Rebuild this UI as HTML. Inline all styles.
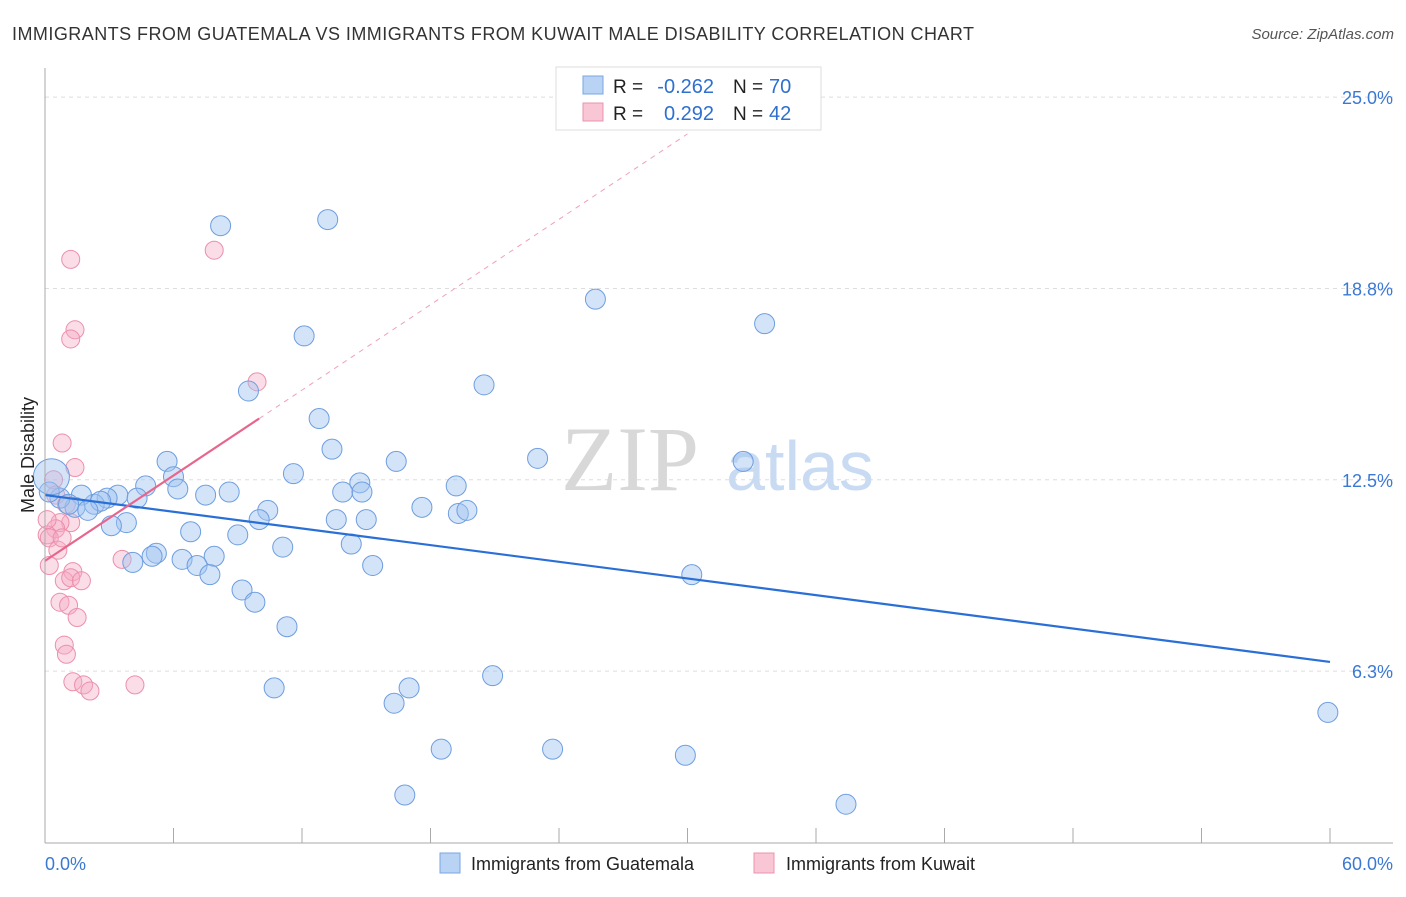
<!DOCTYPE html>
<html><head><meta charset="utf-8"><style>
body{margin:0;background:#fff;font-family:"Liberation Sans",sans-serif;}
</style></head><body>
<svg width="1406" height="892" xmlns="http://www.w3.org/2000/svg" font-family="Liberation Sans, sans-serif">
<text x="12" y="40" font-size="18" fill="#333" textLength="962">IMMIGRANTS FROM GUATEMALA VS IMMIGRANTS FROM KUWAIT MALE DISABILITY CORRELATION CHART</text>
<text x="1394" y="39" font-size="15" fill="#555" font-style="italic" text-anchor="end">Source: ZipAtlas.com</text>
<g id="grid"></g>
<text x="630" y="490" font-size="92" fill="#d8d8d8" font-family="Liberation Serif, serif" text-anchor="middle">ZIP</text>
<text x="800" y="490" font-size="70" fill="#c8dbf2" text-anchor="middle">atlas</text>
<g id="pts"></g>
<g id="lines"></g>
<line x1="45" y1="68" x2="45" y2="843" stroke="#aaa"/>
<line x1="45" y1="843" x2="1393" y2="843" stroke="#aaa"/>
<g id="ticks"></g>
<text x="45" y="870" font-size="18" fill="#3a78d4">0.0%</text>
<text x="1393" y="870" font-size="18" fill="#3a78d4" text-anchor="end">60.0%</text>
<text transform="translate(34,455) rotate(-90)" font-size="18" fill="#222" text-anchor="middle">Male Disability</text>
<g>
<rect x="556" y="67" width="265" height="63" fill="#fff" stroke="#ddd"/>
<rect x="583" y="76" width="20" height="18" fill="#b9d3f5" stroke="#7aa6e4"/>
<rect x="583" y="103" width="20" height="18" fill="#f9c6d5" stroke="#ec93ad"/>
<text x="613" y="93" font-size="19" fill="#222">R =</text>
<text x="714" y="93" font-size="20" fill="#2e6fd0" text-anchor="end">-0.262</text>
<text x="733" y="93" font-size="19" fill="#222">N =</text>
<text x="769" y="93" font-size="20" fill="#2e6fd0">70</text>
<text x="613" y="120" font-size="19" fill="#222">R =</text>
<text x="714" y="120" font-size="20" fill="#2e6fd0" text-anchor="end">0.292</text>
<text x="733" y="120" font-size="19" fill="#222">N =</text>
<text x="769" y="120" font-size="20" fill="#2e6fd0">42</text>
</g>
<g>
<rect x="440" y="853" width="20" height="20" fill="#b9d3f5" stroke="#7aa6e4"/>
<text x="471" y="870" font-size="18" fill="#222">Immigrants from Guatemala</text>
<rect x="754" y="853" width="20" height="20" fill="#f9c6d5" stroke="#ec93ad"/>
<text x="786" y="870" font-size="18" fill="#222">Immigrants from Kuwait</text>
</g>
</svg>
<script>
const yTicks=[25,18.75,12.5,6.25];
const yTickLabels=["25.0%","18.8%","12.5%","6.3%"];
const blueX=[8.2,13.2,25.7,33.6,12.1,9.5,20.5,12.8,13.4,16.4,23.0,32.6,5.7,11.6,6.0,4.7,6.2,14.7,13.9,14.8,8.6,7.5,19.2,17.6,19.3,19.7,10.4,10.0,13.6,15.0,3.4,4.3,2.9,2.3,2.6,1.7,1.4,2.0,0.7,0.2,3.8,3.1,6.8,9.0,14.3,11.1,5.2,5.0,7.9,6.4,4.1,7.1,7.7,15.3,30.2,9.2,9.8,11.3,10.7,17.0,20.9,16.3,18.5,23.7,29.9,16.8,37.4,59.9,0.3,1.1];
const blueY=[20.8,21.0,18.4,17.6,17.2,15.4,15.6,14.5,13.5,13.1,13.2,13.1,13.1,12.7,12.6,12.3,12.2,12.4,12.1,12.1,12.1,12.0,12.3,11.6,11.4,11.5,11.5,11.2,11.2,11.2,12.0,11.9,11.9,11.7,11.8,12.0,11.6,11.5,11.9,12.1,11.1,11.0,10.8,10.7,10.4,10.3,10.1,10.0,10.0,9.9,9.8,9.7,9.4,9.7,9.4,8.9,8.5,7.7,5.7,5.7,6.1,5.2,3.7,3.7,3.5,2.2,1.9,4.9,12.6,11.7];
const blueR=[10,10,10,10,10,10,10,10,10,10,10,10,10,10,10,10,10,10,10,10,10,10,10,10,10,10,10,10,10,10,10,10,10,10,10,10,10,10,10,10,10,10,10,10,10,10,10,10,10,10,10,10,10,10,10,10,10,10,10,10,10,10,10,10,10,10,10,10,18,10];
const pinkX=[1.2,7.9,1.4,1.2,9.9,0.8,1.4,0.4,0.5,1.0,1.2,0.7,0.5,0.1,0.2,0.6,3.6,0.2,1.3,0.9,1.2,1.7,0.7,1.1,1.5,0.9,1.0,1.3,1.8,2.1,4.2,0.1,0.8];
const pinkY=[19.7,20.0,17.4,17.1,15.7,13.7,12.9,12.5,12.0,11.7,11.1,11.1,10.9,10.7,10.6,10.2,9.9,9.7,9.5,9.2,9.3,9.2,8.5,8.4,8.0,7.1,6.8,5.9,5.8,5.6,5.8,11.2,10.6];
const X0=45,PX=1285/60,Y0=862.4,PY=30.61;
const sx=v=>X0+v*PX, sy=v=>Y0-v*PY;
const NS="http://www.w3.org/2000/svg";
function mk(t,a,p){const e=document.createElementNS(NS,t);for(const k in a)e.setAttribute(k,a[k]);p.appendChild(e);return e;}
const grid=document.getElementById('grid');
yTicks.forEach((t,i)=>{
const l=mk('line',{x1:45,x2:1393,y1:sy(t),y2:sy(t),stroke:'#ddd','stroke-dasharray':'4,4'},grid);


const tx=mk('text',{x:1393,y:sy(t)+7,'font-size':18,fill:'#3a78d4','text-anchor':'end'},grid);
tx.textContent=yTickLabels[i];


});
const ticks=document.getElementById('ticks');
for(let i=0;i<=10;i++){const l=mk('line',{x1:sx(i*6),x2:sx(i*6),y1:828,y2:843,stroke:'#aaa'},ticks);

}
const pts=document.getElementById('pts');
pinkX.forEach((v,i)=>{const c=mk('circle',{cx:sx(v),cy:sy(pinkY[i]),r:9,fill:'rgba(246,170,195,0.4)',stroke:'#ec8fab','stroke-width':1},pts);

});
blueX.forEach((v,i)=>{const c=mk('circle',{cx:sx(v),cy:sy(blueY[i]),r:blueR[i],fill:'rgba(160,196,240,0.45)',stroke:'#6d9de0','stroke-width':1},pts);

});
const lines=document.getElementById('lines');
function ln(x1,y1,x2,y2,c,w,d,n){const l=mk('line',{x1:sx(x1),y1:sy(y1),x2:sx(x2),y2:sy(y2),stroke:c,'stroke-width':w},lines);if(d)l.setAttribute('stroke-dasharray',d);

}
const bInt=12.0,bSlope=-(12.0-6.55)/60;
const pInt=9.85,pSlope=(14.5-9.85)/10.0;
ln(0,bInt,60,bInt+bSlope*60,'#2a6fd6',2.2,null,'guatemala-trend');
ln(10.0,pInt+pSlope*10.0,30.0,pInt+pSlope*30.0,'#f0a0b8',1,'5,5','kuwait-trend-extension');
ln(0,pInt,10.0,pInt+pSlope*10.0,'#e8668e',2.2,null,'kuwait-trend');
</script>
</body></html>
